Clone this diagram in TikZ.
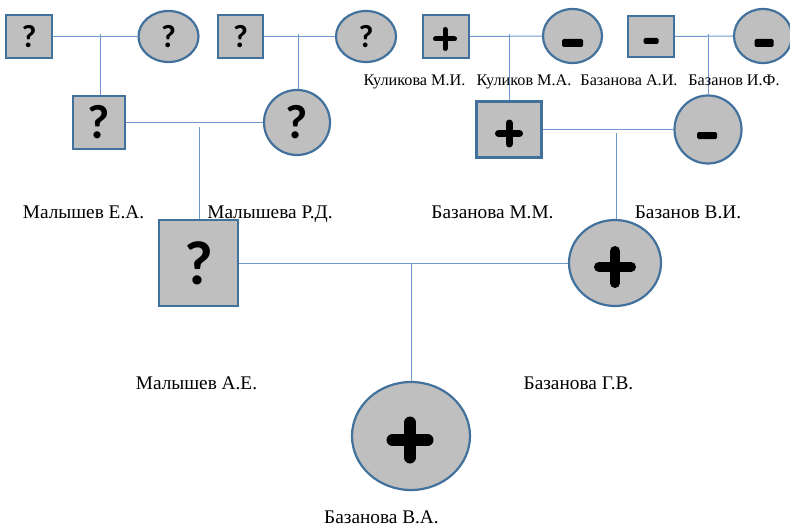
\documentclass[tikz,border=0pt]{standalone}
\usepackage{fontspec}
\setmainfont{Liberation Serif}
\newfontfamily\serifru{Liberation Serif}
\newfontfamily\qfont{Carlito}[BoldFont={Carlito Bold}]
\usetikzlibrary{shapes.geometric}
\definecolor{fillg}{HTML}{BFBFBF}
\definecolor{edge}{HTML}{41719C}
\definecolor{conn}{HTML}{7096CF}
\tikzset{
  person/.style={draw=edge, fill=fillg, line width=2.2pt, inner sep=0pt},
  male/.style={person, rectangle},
  female/.style={person, ellipse},
  link/.style={draw=conn, line width=1pt},
  nm/.style={font=\serifru\fontsize{16.2}{18}\selectfont, anchor=base, inner sep=0pt},
  nmbig/.style={font=\serifru\fontsize{19.3}{22}\selectfont, anchor=base, inner sep=0pt},
  qs/.style={font=\qfont\bfseries\fontsize{32}{32}\selectfont},
  qm/.style={font=\qfont\bfseries\fontsize{48}{48}\selectfont},
  ql/.style={font=\qfont\bfseries\fontsize{62}{62}\selectfont},
}
\newcommand\plusmk[5]{%
  \draw[line width=#5pt, line cap=round] ([shift={(#2-#4,#3)}]#1.center) -- ([shift={(#2+#4,#3)}]#1.center);
  \draw[line width=#5pt, line cap=round] ([shift={(#2,#3-#4)}]#1.center) -- ([shift={(#2,#3+#4)}]#1.center);
}
\newcommand\minusmk[5]{%
  \fill[rounded corners=1.5pt] ([shift={(#2-#4/2,#3-#5/2)}]#1.center) rectangle ([shift={(#2+#4/2,#3+#5/2)}]#1.center);
}
\begin{document}
\begin{tikzpicture}[x=1pt,y=-1pt]
\clip (0,0) rectangle (790,527);
\useasboundingbox (0,0) rectangle (790,527);
% generation 1
\node[male, qs, minimum width=46pt, minimum height=43pt] (A) at (29,36.5) {?};
\node[female, qs, minimum width=60pt, minimum height=51pt] (B) at (168.5,36.5) {?};
\node[male, qs, minimum width=45pt, minimum height=43pt] (D) at (240.5,36.5) {?};
\node[female, qs, minimum width=60pt, minimum height=51pt] (E) at (366,36.5) {?};
\node[male, minimum width=46pt, minimum height=43pt] (I) at (446,36.5) {};
\node[female, minimum width=59pt, minimum height=54pt] (J) at (572.5,36) {};
\node[male, minimum width=46pt, minimum height=41pt] (L) at (651,36.5) {};
\node[female, minimum width=58pt, minimum height=54pt] (M) at (763,36) {};
% generation 2
\node[male, qm, minimum width=52pt, minimum height=53pt] (C) at (99,122.5) {?};
\node[female, qm, minimum width=66pt, minimum height=65pt] (F) at (297,122.5) {?};
\node[male, minimum width=65pt, minimum height=56pt] (K) at (509,129.5) {};
\node[female, minimum width=67pt, minimum height=68pt] (N) at (708,129.5) {};
% generation 3
\node[male, ql, minimum width=79pt, minimum height=86pt] (G) at (198.5,263) {?};
\node[female, minimum width=92pt, minimum height=86pt] (H) at (615,263) {};
% generation 4
\node[female, minimum width=118pt, minimum height=108pt] (O) at (411,436) {};
% symbols
\plusmk{I}{-1}{2.5}{9.5}{5}
\plusmk{K}{0}{4}{10.5}{7}
\plusmk{H}{0}{4}{16}{10}
\plusmk{O}{-1}{4}{17.5}{12}
\minusmk{J}{0}{7}{21}{8}
\minusmk{L}{0}{4.5}{15}{6}
\minusmk{M}{1}{7}{19}{8}
\minusmk{N}{-1}{6}{20}{7}
% connectors
\draw[link] (A) -- (B);
\coordinate (ab) at (100,34);
\draw[link] (ab) -- (ab |- C.north);
\draw[link] (D) -- (E);
\coordinate (de) at (298,34);
\draw[link] (de) -- (de |- F.north);
\draw[link] (C) -- (F);
\coordinate (cf) at (199,127);
\draw[link] (cf) -- (cf |- G.north);
\draw[link] (I) -- (J);
\coordinate (ij) at (509,34);
\draw[link] (ij) -- (ij |- K.north);
\draw[link] (L) -- (M);
\coordinate (lm) at (708,34);
\draw[link] (lm) -- (lm |- N.north);
\draw[link] (K) -- (N);
\coordinate (kn) at (616,133);
\draw[link] (kn) -- (kn |- H.north);
\draw[link] (G) -- (H);
\coordinate (gh) at (411,263);
\draw[link] (gh) -- (gh |- O.north);
% labels
\node[nm] (tKMI) at (414.5,85) {Куликова М.И.};
\node[nm] (tKMA) at (524,85) {Куликов М.А.};
\node[nm] (tBAI) at (629,85) {Базанова А.И.};
\node[nm] (tBIF) at (734,85) {Базанов И.Ф.};
\node[nmbig] (tMEA) at (83.5,218) {Малышев Е.А.};
\node[nmbig] (tMRD) at (270,218) {Малышева Р.Д.};
\node[nmbig] (tBMM) at (492.5,218) {Базанова М.М.};
\node[nmbig] (tBVI) at (688,218) {Базанов В.И.};
\node[nmbig] (tMAE) at (196.5,389) {Малышев А.Е.};
\node[nmbig] (tBGV) at (578.5,389) {Базанова Г.В.};
\node[nmbig] (tBVA) at (381.5,523) {Базанова В.А.};
\end{tikzpicture}
\end{document}
